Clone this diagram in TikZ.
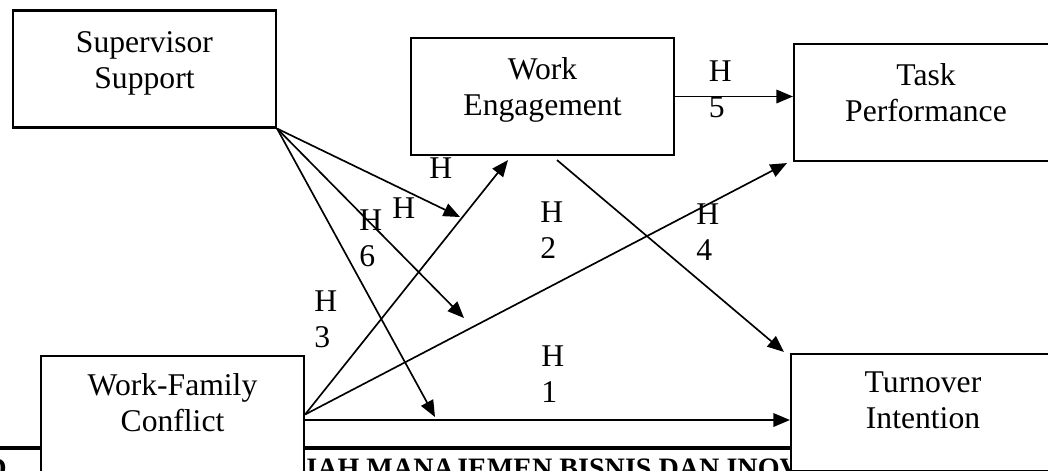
\documentclass[tikz,border=0pt]{standalone}
\usepackage{fontspec}
\setmainfont{Liberation Serif}
\usetikzlibrary{positioning,arrows.meta}

\begin{document}
\begin{tikzpicture}[
  kotak/.style={draw, line width=1.2pt, fill=white, minimum width=5.26cm, minimum height=2.34cm, inner sep=0pt},
  teks/.style={font=\fontsize{18}{20.5}\selectfont, align=center, inner sep=0pt},
  hip/.style={font=\fontsize{18}{20.5}\selectfont, align=left, inner sep=0pt, anchor=north west},
  kop/.style={font=\fontsize{16}{18}\selectfont\bfseries, inner sep=0pt, anchor=base west},
  panah/.style={line width=0.95pt, -{Triangle[length=0.33cm,width=0.27cm]}}
]

\useasboundingbox (0,0) rectangle (20.96,-9.4);
\clip (0,0) rectangle (20.96,-9.4);

% Kop jurnal
\draw[line width=0.08cm] (0,-8.95) -- (20.96,-8.95);
\node[kop] (hal) at (-0.28,-9.55) {D};
\node[kop] (jurnal) at (6.12,-9.55) {IAH MANAJEMEN BISNIS DAN INOV};

% Variabel
\node[kotak] (ss) at (2.89,-1.38) {};
\node[teks, below=0.44cm of ss.north] (ss-t) {Supervisor\\Support};

\node[kotak] (we) at (10.85,-1.93) {};
\node[teks, below=0.40cm of we.north] (we-t) {Work\\Engagement};

\node[kotak, minimum width=5.28cm] (tp) at (18.52,-2.05) {};
\node[teks, below=0.40cm of tp.north] (tp-t) {Task\\Performance};

\node[kotak] (wfc) at (3.45,-8.29) {};
\node[teks, below=0.37cm of wfc.north] (wfc-t) {Work-Family\\Conflict};

\node[kotak, minimum width=5.28cm] (ti) at (18.46,-8.25) {};
\node[teks, below=0.37cm of ti.north] (ti-t) {Turnover\\Intention};

% Ujung panah
\coordinate (m1) at (9.20,-4.34);
\coordinate (m2) at (9.28,-6.36);
\coordinate (m3) at (8.70,-8.34);
\coordinate (we-in) at ([xshift=-0.69cm,yshift=-0.08cm]we.south);
\coordinate (we-out) at ([xshift=0.29cm,yshift=-0.08cm]we.south);
\coordinate (tp-in) at ([xshift=-0.12cm,yshift=-0.02cm]tp.south west);
\coordinate (ti-in) at ([xshift=-0.12cm,yshift=0.02cm]ti.north west);

% Hubungan
\draw[panah] (ss.south east) -- (m1);
\draw[panah] (ss.south east) -- (m2);
\draw[panah] (ss.south east) -- (m3);

\draw[panah] (wfc.east) -- (we-in);
\draw[panah] (wfc.east) -- (tp-in);
\draw[panah] ([yshift=-0.11cm]wfc.east) -- ([yshift=-0.11cm]wfc.east -| ti.west);

\draw[panah] (we.east) -- (we.east -| tp.west);
\draw[panah] (we-out) -- (ti-in);

% Hipotesis
\node[hip] (h5) at (14.17,-1.20) {H\\5};
\node[hip] (h7) at (8.58,-3.14) {H};
\node[hip] (h8) at (7.84,-3.94) {H};
\node[hip] (h6) at (7.18,-4.18) {H\\6};
\node[hip] (h3) at (6.28,-5.80) {H\\3};
\node[hip] (h2) at (10.80,-4.02) {H\\2};
\node[hip] (h4) at (13.92,-4.06) {H\\4};
\node[hip] (h1) at (10.82,-6.90) {H\\1};

\end{tikzpicture}
\end{document}
